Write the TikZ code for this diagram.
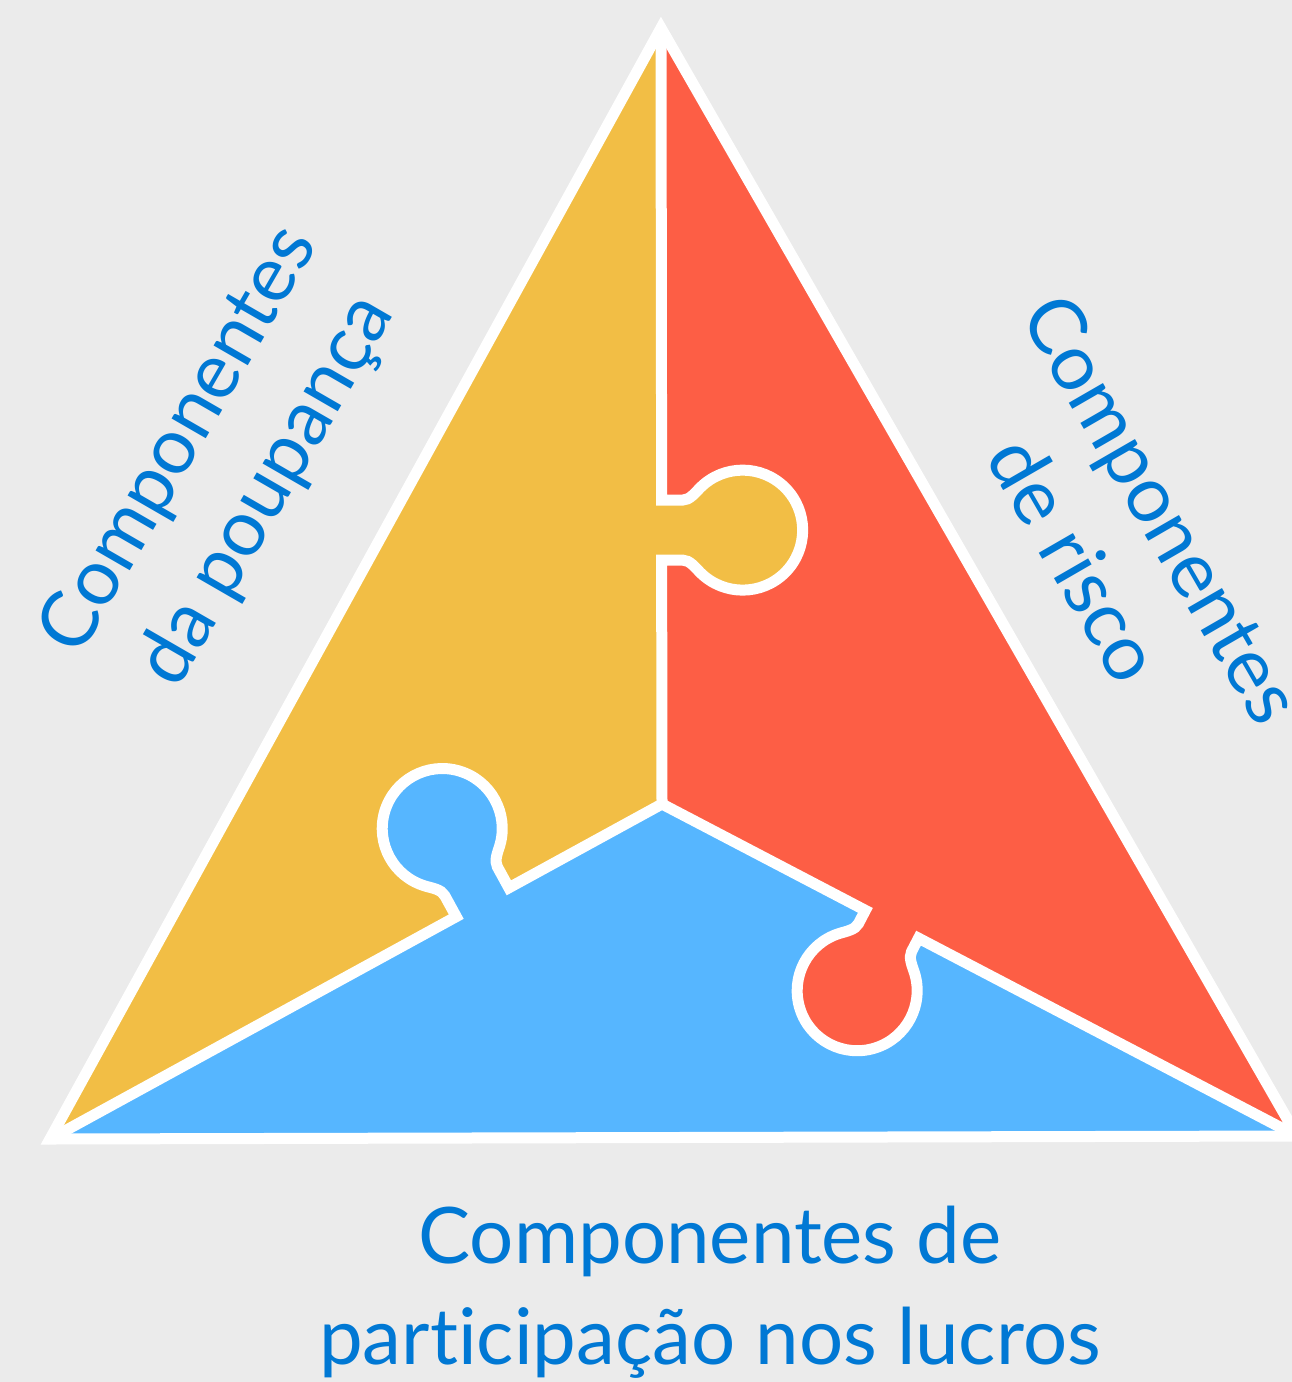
\documentclass[tikz,border=0pt]{standalone}
\usepackage{fontspec}
\setmainfont{Lato}[Ligatures=NoCommon]
\usetikzlibrary{calc}

\definecolor{bg}{HTML}{EBEBEB}
\definecolor{piece-yellow}{HTML}{F2BE45}
\definecolor{piece-red}{HTML}{FD5E45}
\definecolor{piece-blue}{HTML}{56B6FF}
\definecolor{label-blue}{HTML}{0078D4}

% One puzzle tab along the local x axis, bulging towards +y.
\newcommand{\tabpath}[1]{%
    -- (-30,0) -- (-30,{#1-60})
    .. controls (-30,{#1-53}) and (-37.4,{#1-47.4}) .. (-42.4,{#1-42.4})
    arc[start angle=225, end angle=-45, radius=60]
    .. controls (37.4,{#1-47.4}) and (30,{#1-53}) .. (30,{#1-60})
    -- (30,0)%
}

\begin{document}
\begin{tikzpicture}[
        x=1pt,
        y=1pt,
        seam/.style={
            draw=white,
            line width=11pt,
        },
        label/.style={
            text=label-blue,
            align=center,
            font=\fontsize{78}{101}\selectfont,
        },
    ]

    \useasboundingbox (0,0) rectangle (1292,-1382);
    \clip (0,0) rectangle (1292,-1382);
    \fill[bg] (0,0) rectangle (1292,-1382);

    % Corners and centre of the triangle.
    \coordinate (T) at (661,-28);
    \coordinate (L) at (50,-1139);
    \coordinate (R) at (1297,-1136);
    \coordinate (C) at (662,-804);

    % Tab centres and their feet on the seams.
    \coordinate (O1) at (743,-530);
    \coordinate (O2) at (442,-828);
    \coordinate (O3) at (857,-991);
    \coordinate (F1) at ($(T)!(O1)!(C)$);
    \coordinate (F2) at ($(L)!(O2)!(C)$);
    \coordinate (F3) at ($(R)!(O3)!(C)$);

    % Pieces.
    \fill[piece-red] (T) -- (R) -- (L) -- cycle;
    \fill[piece-yellow] (T) -- (C) -- (L) -- cycle;
    \fill[piece-blue] (L) -- (C) -- (R) -- cycle;

    % Tabs.
    \foreach \foot/\ang/\dist/\col in {F1/-90/81/piece-yellow, F2/28.7/84/piece-blue, F3/152.4/75/piece-red}
    \fill[\col, shift={(\foot)}, rotate=\ang] (-30,-12) \tabpath{\dist} -- (30,-12) -- cycle;

    % Seams.
    \draw[seam, line cap=round] (T) {[shift={(F1)}, rotate=-90] \tabpath{81}} -- (C);
    \draw[seam, line cap=round] (L) {[shift={(F2)}, rotate=28.7] \tabpath{84}} -- (C);
    \draw[seam, line cap=round] (R) {[shift={(F3)}, rotate=152.4] \tabpath{75}} -- (C);

    % Outline.
    \draw[seam] (T) -- (R) -- (L) -- cycle;

    % Labels.
    \node[label, rotate=60] (poupanca) at (224,-466) {Componentes\\da poupança};
    \node[label, rotate=-60] (risco) at (1119,-534) {Componentes\\de risco};
    \node[label] (lucros) at (710,-1292) {Componentes de\\participação nos lucros};
\end{tikzpicture}
\end{document}
